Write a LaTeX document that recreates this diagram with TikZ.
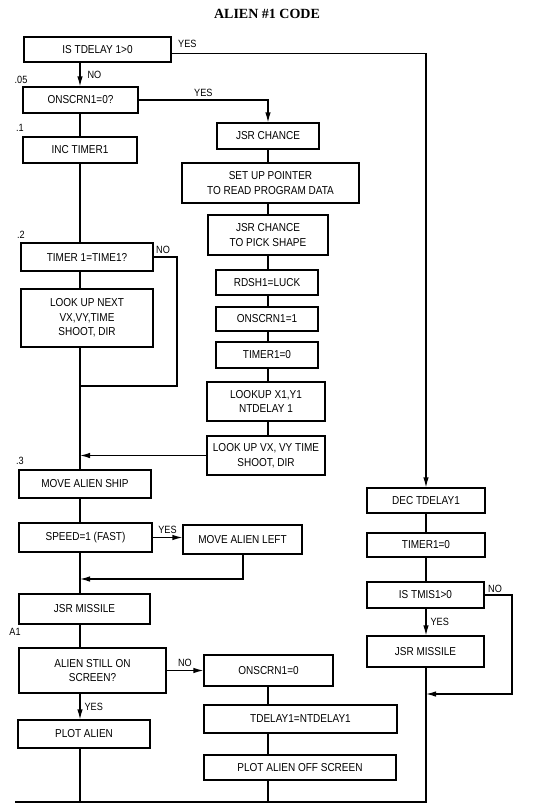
\documentclass[tikz,border=0pt]{standalone}
\usepackage{fontspec}
\setmainfont{Liberation Sans}[FakeStretch=0.87]
\newfontfamily\titlefont{Liberation Serif}
\usepackage{tikz}
\usetikzlibrary{arrows.meta}
\usetikzlibrary{calc}
\usetikzlibrary{positioning}
\tikzstyle{block} = [draw, rectangle, line width=1.2pt, align=center,
    inner sep=1pt, font=\fontsize{11.5}{14.5}\selectfont]
\tikzstyle{lbl} = [inner sep=0pt, font=\fontsize{10.5}{12}\selectfont]
\tikzstyle{line} = [line width=1.2pt]

\begin{document}
\begin{tikzpicture}[x=1pt,y=-1pt,>={Latex[length=10pt,width=5.5pt]}]
    \useasboundingbox (0,0) rectangle (547,811);
    \node[font={\titlefont\bfseries\fontsize{14}{16}\selectfont}] (title) at (267,14) {ALIEN \#1 CODE};

    % left column
    \node[block, minimum width=147pt, minimum height=25pt] (tdelay) at (97.5,49.5) {IS TDELAY 1>0};
    \node[block, minimum width=115pt, minimum height=26pt] (onscrn) at (80.5,100) {ONSCRN1=0?};
    \node[block, minimum width=114pt, minimum height=26pt] (inctmr) at (80,150) {INC TIMER1};
    \node[block, minimum width=132pt, minimum height=28pt] (tmrtest) at (87,257) {TIMER 1=TIME1?};
    \node[block, minimum width=132pt, minimum height=58pt] (looknext) at (87,318) {LOOK UP NEXT\\VX,VY,TIME\\SHOOT, DIR};
    \node[block, minimum width=132pt, minimum height=28pt] (moveship) at (85,484) {MOVE ALIEN SHIP};
    \node[block, minimum width=133pt, minimum height=29pt] (speed) at (85.5,537.5) {SPEED=1 (FAST)};
    \node[block, minimum width=119pt, minimum height=29pt] (moveleft) at (242.5,539.5) {MOVE ALIEN LEFT};
    \node[block, minimum width=131pt, minimum height=30pt] (jsrmis) at (84.5,609) {JSR MISSILE};
    \node[block, minimum width=147pt, minimum height=45pt] (stillon) at (92.5,670.5) {ALIEN STILL ON\\SCREEN?};
    \node[block, minimum width=132pt, minimum height=28pt] (plot) at (84,734) {PLOT ALIEN};

    % middle column
    \node[block, minimum width=102pt, minimum height=26pt] (jsrch) at (268,136) {JSR CHANCE};
    \node[block, minimum width=177pt, minimum height=40pt] (setptr) at (270.5,183) {SET UP POINTER\\TO READ PROGRAM DATA};
    \node[block, minimum width=120pt, minimum height=40pt] (pickshp) at (268,235) {JSR CHANCE\\TO PICK SHAPE};
    \node[block, minimum width=102pt, minimum height=25pt] (rdsh) at (267,282.5) {RDSH1=LUCK};
    \node[block, minimum width=102pt, minimum height=24pt] (onscrnone) at (267,319) {ONSCRN1=1};
    \node[block, minimum width=102pt, minimum height=26pt] (tmrzero) at (267,355) {TIMER1=0};
    \node[block, minimum width=118pt, minimum height=39pt] (lookxy) at (266,401.5) {LOOKUP X1,Y1\\NTDELAY 1};
    \node[block, minimum width=118pt, minimum height=39pt] (lookvx) at (266,455.5) {LOOK UP VX, VY TIME\\SHOOT, DIR};
    \node[block, minimum width=129pt, minimum height=31pt] (offscrn) at (268.5,670.5) {ONSCRN1=0};
    \node[block, minimum width=193pt, minimum height=28pt] (tdnt) at (300.5,719) {TDELAY1=NTDELAY1};
    \node[block, minimum width=192pt, minimum height=25pt] (plotoff) at (300,767.5) {PLOT ALIEN OFF SCREEN};

    % right column
    \node[block, minimum width=118pt, minimum height=25pt] (dectd) at (426,500.5) {DEC TDELAY1};
    \node[block, minimum width=118pt, minimum height=24pt] (tmronezero) at (426,545) {TIMER1=0};
    \node[block, minimum width=117pt, minimum height=26pt] (tmis) at (425.5,595) {IS TMIS1>0};
    \node[block, minimum width=117pt, minimum height=31pt] (jsrmistwo) at (425.5,651.5) {JSR MISSILE};

    % step labels
    \node[lbl] (lbla) at (21,80) {.05};
    \node[lbl] (lblb) at (20,128) {.1};
    \node[lbl] (lblc) at (21,235) {.2};
    \node[lbl] (lbld) at (20,461) {.3};
    \node[lbl] (lble) at (15,632) {A1};

    \coordinate (lsp) at (80,0);
    \coordinate (msp) at (268,0);
    \coordinate (rsp) at (426,0);
    \coordinate (noloop) at (177,386);
    \coordinate (ret) at (243,579);
    \coordinate (noloopr) at (512,694);
    \coordinate (bot) at (15,802);

    \draw[line,->] ([yshift=-4pt]tdelay.east) node[lbl,anchor=south west,xshift=6pt,yshift=5pt] {YES} -| (dectd.north -| rsp);
    \draw[line,->] (tdelay.south -| lsp) -- node[lbl,right=7pt] {NO} (onscrn.north -| lsp);
    \draw[line,->] (onscrn.east) -| node[lbl,pos=0.25,above=3pt] {YES} (jsrch.north -| msp);
    \draw[line] (onscrn.south -| lsp) -- (inctmr.north -| lsp);
    \draw[line] (inctmr.south -| lsp) -- (tmrtest.north -| lsp);
    \draw[line] (tmrtest.south -| lsp) -- (looknext.north -| lsp);
    \draw[line] (tmrtest.east) node[lbl,anchor=south west,xshift=2pt,yshift=3pt] {NO} -| (noloop) -- (noloop -| lsp);
    \draw[line] (looknext.south -| lsp) -- (moveship.north -| lsp);
    \foreach \a/\b in {jsrch/setptr, setptr/pickshp, pickshp/rdsh, rdsh/onscrnone,
        onscrnone/tmrzero, tmrzero/lookxy, lookxy/lookvx}
        \draw[line] (\a.south -| msp) -- (\b.north -| msp);
    \draw[line,->] (lookvx.west) -- (lookvx.west -| lsp);

    \draw[line] (moveship.south -| lsp) -- (speed.north -| lsp);
    \draw[line,->] (speed.east) -- node[lbl,above=3pt] {YES} (speed.east -| moveleft.west);
    \draw[line,->] (moveleft.south -| ret) -- (ret) -- (ret -| lsp);
    \draw[line] (speed.south -| lsp) -- (jsrmis.north -| lsp);
    \draw[line] (jsrmis.south -| lsp) -- (stillon.north -| lsp);
    \draw[line,->] (stillon.east) -- node[lbl,above=3pt] {NO} (stillon.east -| offscrn.west);
    \draw[line,->] (stillon.south -| lsp) -- node[lbl,right=4pt] {YES} (plot.north -| lsp);
    \draw[line] (offscrn.south -| msp) -- (tdnt.north -| msp);
    \draw[line] (tdnt.south -| msp) -- (plotoff.north -| msp);

    \draw[line] (dectd.south -| rsp) -- (tmronezero.north -| rsp);
    \draw[line] (tmronezero.south -| rsp) -- (tmis.north -| rsp);
    \draw[line,->] (tmis.south -| rsp) -- node[lbl,right=4pt] {YES} (jsrmistwo.north -| rsp);
    \draw[line,->] (tmis.east) node[lbl,anchor=south west,xshift=3pt,yshift=2pt] {NO} -| (noloopr) -- (noloopr -| rsp);

    % bottom return line
    \draw[line] (plot.south -| lsp) -- (bot -| lsp);
    \draw[line] (plotoff.south -| msp) -- (bot -| msp);
    \draw[line] (jsrmistwo.south -| rsp) -- (bot -| rsp) -- (bot);
\end{tikzpicture}
\end{document}
